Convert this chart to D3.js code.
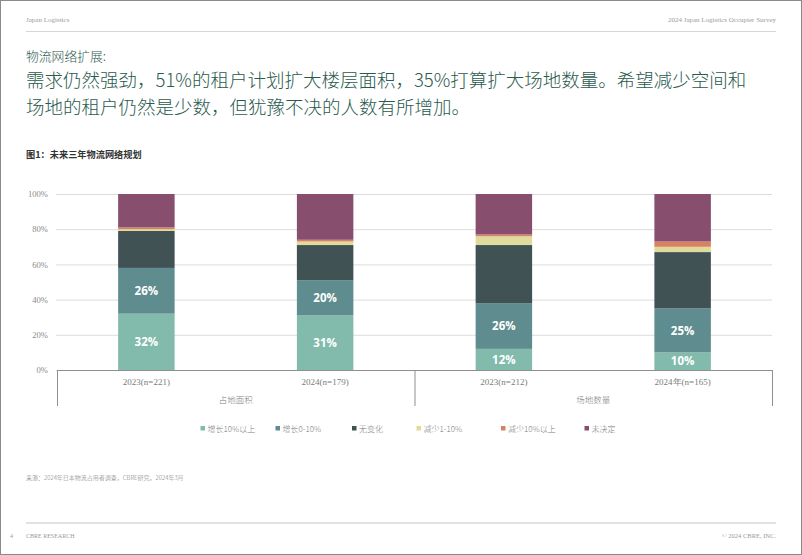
<!DOCTYPE html>
<html><head><meta charset="utf-8">
<script src="https://cdn.jsdelivr.net/npm/d3@7"></script>
<style>
html,body{margin:0;padding:0;background:#fff;}
svg{display:block;}
</style></head>
<body>
<svg id="c" width="802" height="555"></svg>
<script>
// ---- data ----
const categories = ["2023(n=221)", "2024(n=179)", "2023(n=212)", "2024年(n=165)"];
const groups = ["占地面积", "场地数量"];
const seriesNames = ["增长10%以上", "增长0-10%", "无变化", "减少1-10%", "减少10%以上", "未决定"];
const increaseOver10 = [32, 31, 12, 10];
const increase0to10 = [26, 20, 26, 25];
const noChange = [21, 20, 33, 32];
const decrease1to10 = [1, 2, 5, 3];
const decreaseOver10 = [1, 1, 1, 3];
const undecided = [19, 26, 23, 27];
const yTicks = [0, 20, 40, 60, 80, 100];
const labeledSeries = [0, 1];

(function () {
const seriesValues = [increaseOver10, increase0to10, noChange, decrease1to10, decreaseOver10, undecided];
const colors = ["#82bbac", "#5f8d8f", "#415254", "#dedb9c", "#d8825f", "#874e6e"];

const svg = d3.select("#c");
const serif = "'Liberation Serif','DejaVu Serif',serif";
const cjk = "'Noto Sans CJK SC','Noto Sans',sans-serif";

// page frame
svg.append("rect").attr("x",0.5).attr("y",0.5).attr("width",801).attr("height",554)
  .attr("fill","none").attr("stroke","#8a8a8a").attr("stroke-width",1);

// header
svg.append("text").attr("x",26).attr("y",22).text("Japan Logistics")
  .attr("font-family",serif).attr("font-size",7).attr("fill","#9a9a9a");
svg.append("text").attr("x",776).attr("y",22).attr("text-anchor","end").text("2024 Japan Logistics Occupier Survey")
  .attr("font-family",serif).attr("font-size",7).attr("fill","#9a9a9a");
svg.append("line").attr("x1",26).attr("x2",776).attr("y1",31.5).attr("y2",31.5)
  .attr("stroke","#d6d6d6").attr("stroke-width",1);

// titles
svg.append("text").attr("x",26).attr("y",61).text("物流网络扩展:")
  .attr("font-family",cjk).attr("font-weight",300).attr("font-size",12.8).attr("fill","#2f5a50");
svg.append("text").attr("x",26).attr("y",87).text("需求仍然强劲，51%的租户计划扩大楼层面积，35%打算扩大场地数量。希望减少空间和")
  .attr("font-family",cjk).attr("font-weight",300).attr("font-size",18.5).attr("fill","#2a5a4e");
svg.append("text").attr("x",26).attr("y",114).text("场地的租户仍然是少数，但犹豫不决的人数有所增加。")
  .attr("font-family",cjk).attr("font-weight",300).attr("font-size",18.5).attr("fill","#2a5a4e");
svg.append("text").attr("x",26).attr("y",158).text("图1：未来三年物流网络规划")
  .attr("font-family",cjk).attr("font-weight",700).attr("font-size",9.2).attr("fill","#333");

// scales
const plotL = 57, plotR = 772, plotT = 194, plotB = 370;
const x = d3.scaleBand().domain(categories).range([plotL, plotR]).padding(0);
const y = d3.scaleLinear().domain([0, 100]).range([plotB, plotT]);
const barW = x.bandwidth() * 0.316;

// grid + y axis
const yAxis = d3.axisLeft(y).tickValues(yTicks).tickFormat(d => d + "%").tickSize(-(plotR - plotL + 1)).tickPadding(8);
const gy = svg.append("g").attr("transform", `translate(${plotL - 1},0)`).call(yAxis);
gy.select(".domain").remove();
gy.selectAll(".tick line").attr("stroke", "#dcdcdc").attr("stroke-width", 1);
gy.selectAll(".tick text").attr("font-family", serif).attr("font-size", 8.6).attr("fill", "#8a8a8a");

// stacked bars
const rows = categories.map((c, i) => {
  const r = { cat: c };
  seriesNames.forEach((s, j) => r[s] = seriesValues[j][i]);
  return r;
});
const stack = d3.stack().keys(seriesNames)(rows);
const gBars = svg.append("g");
stack.forEach((layer, j) => {
  gBars.selectAll(null).data(layer).join("rect")
    .attr("x", d => x(d.data.cat) + (x.bandwidth() - barW) / 2)
    .attr("width", barW)
    .attr("y", d => y(d[1]))
    .attr("height", d => y(d[0]) - y(d[1]))
    .attr("fill", colors[j]);
});
labeledSeries.forEach(j => {
  gBars.selectAll(null).data(stack[j]).join("text")
    .attr("x", d => x(d.data.cat) + x.bandwidth() / 2)
    .attr("y", d => (y(d[0]) + y(d[1])) / 2)
    .attr("dy", "0.36em")
    .attr("text-anchor", "middle")
    .attr("font-family", "'Open Sans','Noto Sans',sans-serif")
    .attr("font-weight", 700).attr("font-size", 11.5).attr("fill", "#fff")
    .text(d => (d[1] - d[0]) + "%");
});

// axis frame (baseline + group separators)
const axisColor = "#8f8f8f";
svg.append("line").attr("x1", plotL).attr("x2", plotR).attr("y1", plotB + 0.5).attr("y2", plotB + 0.5)
  .attr("stroke", axisColor).attr("stroke-width", 1);
const groupEdges = [x(categories[0]), x(categories[2]), plotR];
groupEdges.forEach(gx => {
  svg.append("line").attr("x1", gx + 0.5).attr("x2", gx + 0.5).attr("y1", plotB).attr("y2", 406)
    .attr("stroke", axisColor).attr("stroke-width", 1);
});
// category labels
svg.append("g").selectAll("text").data(categories).join("text")
  .attr("x", d => x(d) + x.bandwidth() / 2).attr("y", 385)
  .attr("text-anchor", "middle").attr("font-family", serif).attr("font-size", 9).attr("fill", "#7c7c7c")
  .text(d => d);
// group labels
svg.append("g").selectAll("text").data(groups).join("text")
  .attr("x", (d, i) => (groupEdges[i] + groupEdges[i + 1]) / 2).attr("y", 403)
  .attr("text-anchor", "middle").attr("font-family", cjk).attr("font-weight", 300).attr("font-size", 8.5).attr("fill", "#7c7c7c")
  .text(d => d);

// legend
const legendX = [200.5, 275.5, 352, 416.5, 501, 584.5];
const lg = svg.append("g");
seriesNames.forEach((s, j) => {
  lg.append("rect").attr("x", legendX[j]).attr("y", 426).attr("width", 4.5).attr("height", 4.5).attr("fill", colors[j]);
  lg.append("text").attr("x", legendX[j] + 7).attr("y", 431.5).text(s)
    .attr("font-family", cjk).attr("font-weight", 300).attr("font-size", 8).attr("fill", "#7c7c7c");
});

// source
svg.append("text").attr("x", 26).attr("y", 480).text("来源：2024年日本物流占用者调查，CBRE研究，2024年3月")
  .attr("font-family", cjk).attr("font-weight", 300).attr("font-size", 6).attr("fill", "#777");

// footer
svg.append("line").attr("x1", 26).attr("x2", 776).attr("y1", 523).attr("y2", 523)
  .attr("stroke", "#e2e2e2").attr("stroke-width", 2);
svg.append("text").attr("x", 10).attr("y", 538).text("4")
  .attr("font-family", serif).attr("font-size", 6).attr("fill", "#9a9a9a");
svg.append("text").attr("x", 26).attr("y", 538).text("CBRE RESEARCH")
  .attr("font-family", serif).attr("font-size", 6).attr("fill", "#9a9a9a");
svg.append("text").attr("x", 776).attr("y", 538).attr("text-anchor", "end").text("© 2024 CBRE, INC.")
  .attr("font-family", serif).attr("font-size", 6.5).attr("fill", "#9a9a9a");
})();
</script>
</body></html>
